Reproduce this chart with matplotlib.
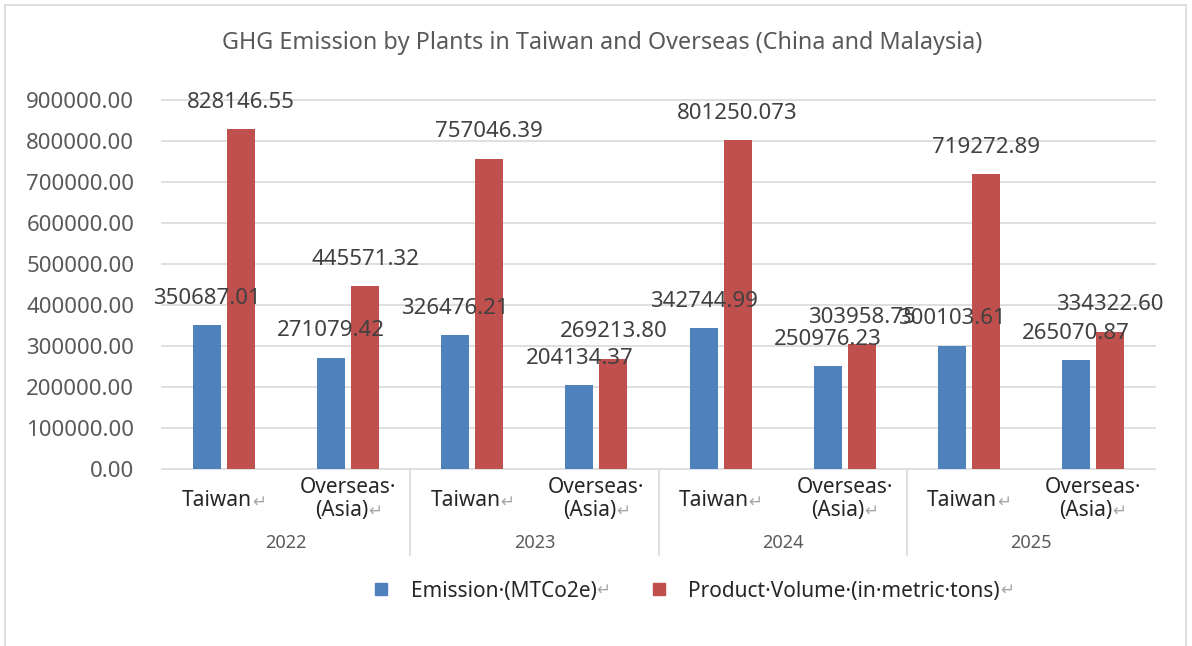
import matplotlib
matplotlib.use("Agg")
import matplotlib.pyplot as plt
import numpy as np
from matplotlib.lines import Line2D
from matplotlib.offsetbox import TextArea, HPacker, VPacker, AnnotationBbox
from matplotlib.patches import Rectangle

# ---- data ----
years = ["2022", "2023", "2024", "2025"]
regions = ["Taiwan", "Overseas (Asia)"]
emission = [350687.01, 271079.42, 326476.21, 204134.37,
            342744.99, 250976.23, 300103.61, 265070.87]
product = [828146.55, 445571.32, 757046.39, 269213.80,
           801250.073, 303958.75, 719272.89, 334322.60]
emission_decimals = [2, 2, 2, 2, 2, 2, 2, 2]
product_decimals = [2, 2, 2, 2, 3, 2, 2, 2]
series_names = ["Emission·(MTCo2e)", "Product·Volume·(in·metric·tons)"]
yticks = [0, 100000, 200000, 300000, 400000, 500000, 600000, 700000, 800000, 900000]
title = "GHG Emission by Plants in Taiwan and Overseas (China and Malaysia)"

BLUE = "#4F81BD"
RED = "#C0504D"
GRID = "#D9D9D9"
TICK = "#595959"
LABEL = "#404040"
MARK = "#A6A6A6"
FONT = "Noto Sans"
plt.rcParams["font.family"] = [FONT, "DejaVu Sans"]

W, H = 1192, 646
fig = plt.figure(figsize=(W / 100, H / 100), dpi=100)
fig.patch.set_facecolor("white")

# figure border (light grey frame)
fig.add_artist(Rectangle((5 / W, -0.05), (1186 - 5) / W, 1.05 - 5 / H,
                         transform=fig.transFigure, fill=False,
                         edgecolor="#D9D9D9", linewidth=1.2))

left, right, zero_y, top_y = 162, 1155, 469, 100
ax = fig.add_axes([left / W, (H - zero_y) / H, (right - left) / W, (zero_y - top_y) / H])

n = len(emission)
x = np.arange(n)
bw = 0.226
off = 0.137
ax.bar(x - off, emission, width=bw, color=BLUE, zorder=3)
ax.bar(x + off, product, width=bw, color=RED, zorder=3)

ax.set_xlim(-0.5, n - 0.5)
ax.set_ylim(0, 900000)
ax.set_yticks(yticks)
ax.set_yticklabels([f"{v:.2f}" for v in yticks], fontsize=16, color=TICK)
ax.tick_params(axis="y", length=0, pad=20)
ax.tick_params(axis="x", length=0, labelbottom=False)
ax.set_xticks([])
for y in yticks[1:]:
    ax.axhline(y, color=GRID, linewidth=1.2, zorder=1, clip_on=False)
for s in ["top", "right", "left"]:
    ax.spines[s].set_visible(False)
ax.spines["bottom"].set_color(GRID)
ax.spines["bottom"].set_linewidth(1.2)

# data labels
for i in range(n):
    for xv, v, d in ((x[i] - off, emission[i], emission_decimals[i]),
                     (x[i] + off, product[i], product_decimals[i])):
        ax.annotate(f"{v:.{d}f}", xy=(xv, v), xytext=(0, 27),
                    textcoords="offset pixels", ha="center", va="center",
                    fontsize=16, color=LABEL, annotation_clip=False, zorder=5)

# category labels with formatting marks
def line_box(text, mark, size, color):
    parts = [TextArea(text, textprops=dict(fontsize=size, color=color, family=FONT))]
    if mark:
        parts.append(TextArea(mark, textprops=dict(fontsize=size - 3, color=MARK,
                                                    family="DejaVu Sans")))
    return HPacker(children=parts, align="baseline", pad=0, sep=0)

for i in range(n):
    reg = regions[i % 2]
    if reg == "Taiwan":
        box = line_box("Taiwan", "↵", 15, "#262626")
        yoff = -32
    else:
        box = VPacker(children=[line_box("Overseas·", None, 15, "#262626"),
                                line_box("(Asia)", "↵", 15, "#262626")],
                      align="center", pad=0, sep=1)
        yoff = -30
    ab = AnnotationBbox(box, (x[i], 0), xycoords=("data", "axes fraction"),
                        xybox=(0, yoff), boxcoords="offset pixels",
                        box_alignment=(0.5, 0.5), frameon=False, pad=0,
                        annotation_clip=False)
    ax.add_artist(ab)

# year labels and separators
for j, yr in enumerate(years):
    ax.annotate(yr, xy=(2 * j + 0.5, 0), xycoords=("data", "axes fraction"),
                xytext=(0, -74), textcoords="offset pixels", ha="center",
                va="center", fontsize=13, color=TICK, annotation_clip=False)
for j in range(1, len(years)):
    ax.plot([2 * j - 0.5, 2 * j - 0.5], [0, -86 / (zero_y - top_y)],
            transform=ax.get_xaxis_transform(), color=GRID, linewidth=1.2,
            clip_on=False)

# title
fig.text(602 / W, 1 - 43 / H, title, ha="center", va="center",
         fontsize=16.8, color=TICK)

# legend
handles = [Line2D([], [], linestyle="none", marker="s", markersize=9,
                  markerfacecolor=BLUE, markeredgecolor=BLUE),
           Line2D([], [], linestyle="none", marker="s", markersize=9,
                  markerfacecolor=RED, markeredgecolor=RED)]
leg = fig.legend(handles, series_names, loc="center", ncol=2,
                 bbox_to_anchor=(0.575, 1 - 591 / H), frameon=False,
                 fontsize=15, handlelength=1.0, handletextpad=0.9,
                 columnspacing=2.5, labelcolor="#262626")
fig.canvas.draw()
for t in leg.get_texts():
    bb = t.get_window_extent()
    fig.text(bb.x1 / W, bb.y0 / H + 3 / H, "↵", ha="left", va="bottom",
             fontsize=12, color=MARK, family="DejaVu Sans")

fig.savefig("out.png", dpi=100, facecolor="white")
